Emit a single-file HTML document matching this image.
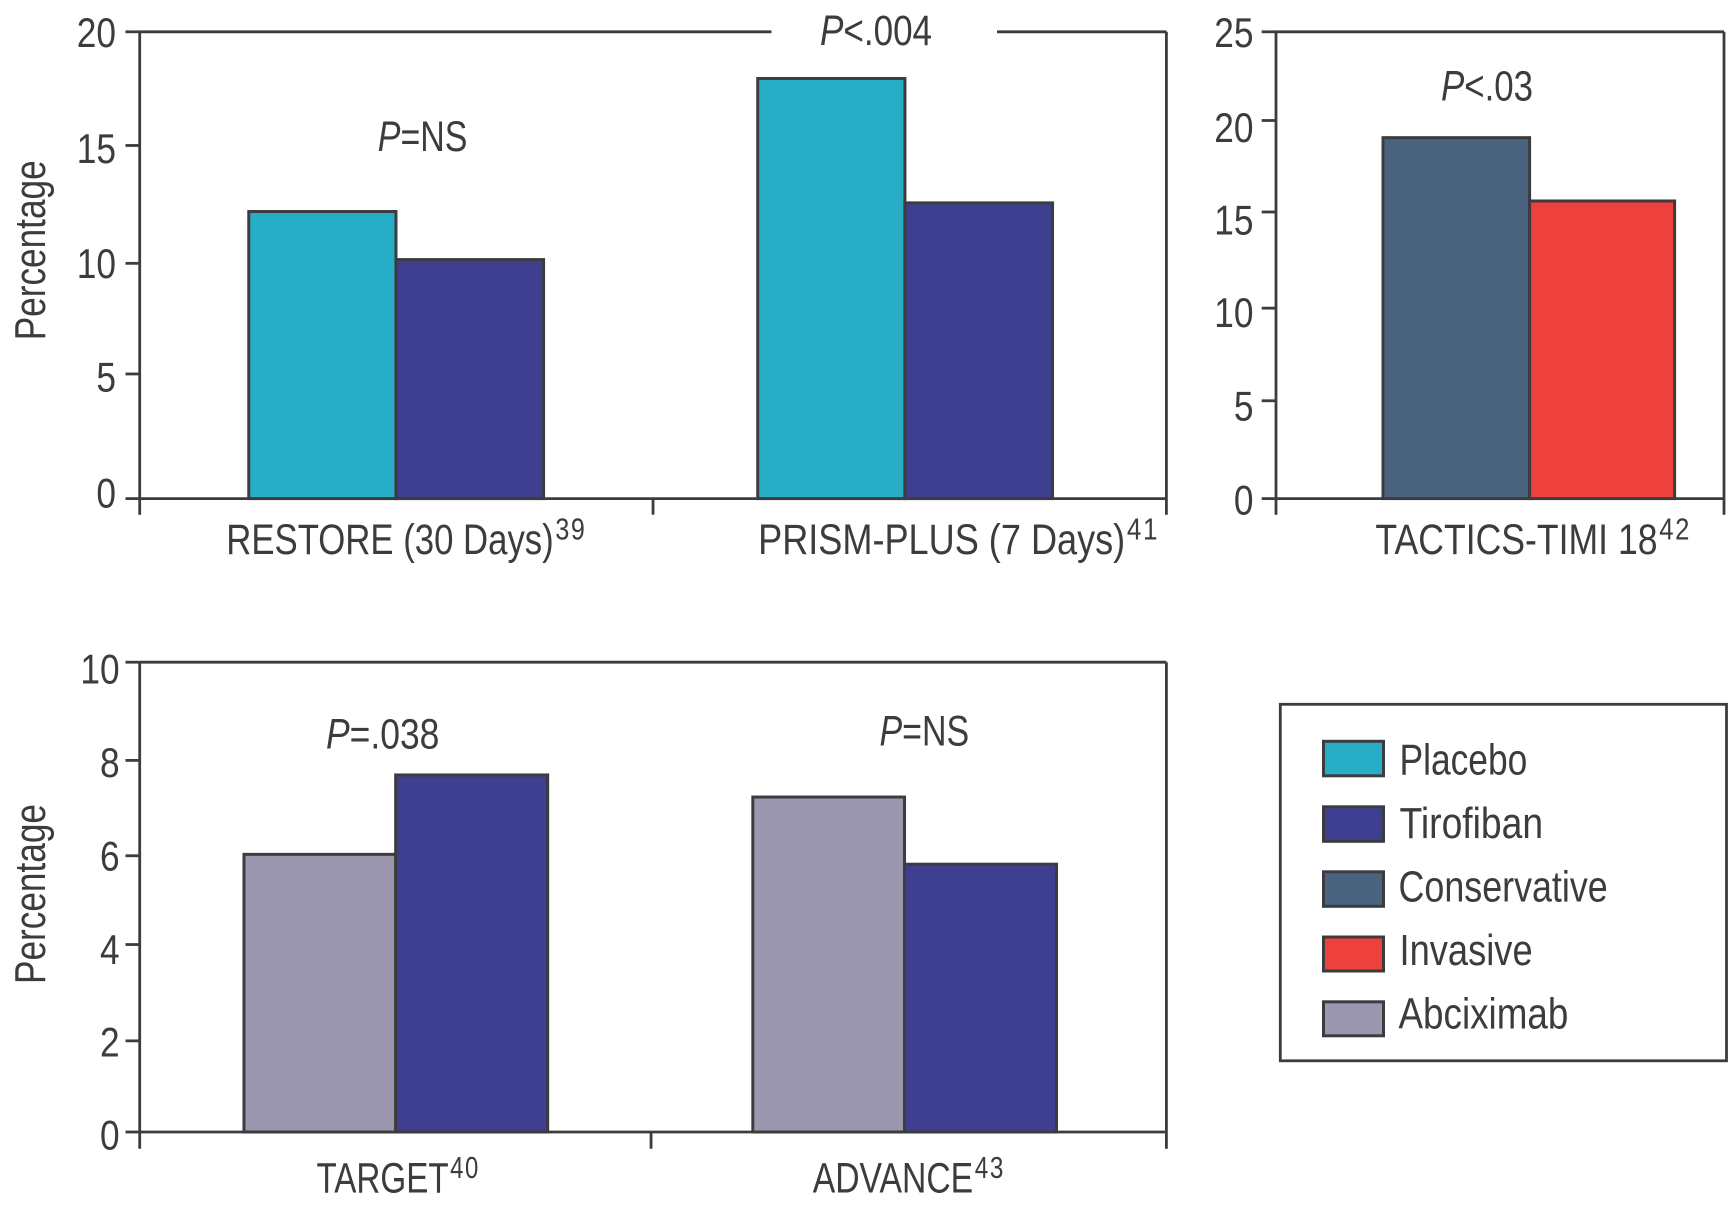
<!DOCTYPE html>
<html lang="en">
<head>
<meta charset="utf-8">
<title>Trial outcomes bar charts</title>
<style>
  html, body { margin: 0; padding: 0; background: #ffffff; }
  #figure { display: block; width: 1732px; height: 1211px; }
  text { font-family: "Liberation Sans", sans-serif; fill: #3c3c3f; }
</style>
</head>
<body>
<svg id="figure" xmlns="http://www.w3.org/2000/svg" width="1732" height="1211" viewBox="0 0 1732 1211">
  <rect x="0" y="0" width="1732" height="1211" fill="#ffffff"/>

  <g id="panel-a">
    <text transform="translate(45 340.3) rotate(-90) scale(.80 1)" font-size="44">Percentage</text>
    <text transform="translate(377.8 151) scale(.79 1)" font-size="43"><tspan font-style="italic">P</tspan>=NS</text>
    <text transform="translate(820 44.8) scale(.815 1)" font-size="43"><tspan font-style="italic">P</tspan>&lt;.004</text>
  </g>

  <g id="panel-b">
    <text transform="translate(1441 100.3) scale(.811 1)" font-size="43"><tspan font-style="italic">P</tspan>&lt;.03</text>
  </g>

  <g id="panel-c">
    <text transform="translate(45 984) rotate(-90) scale(.80 1)" font-size="44">Percentage</text>
    <text transform="translate(326 748.5) scale(.825 1)" font-size="43"><tspan font-style="italic">P</tspan>=.038</text>
    <text transform="translate(879.5 745.6) scale(.79 1)" font-size="43"><tspan font-style="italic">P</tspan>=NS</text>
  </g>

  <g>
    <rect x="1280.3" y="704.3" width="446.2" height="356.5" fill="#ffffff" stroke="#3c3c3f" stroke-width="2.8"/>
    <g>
      <rect x="1323.5" y="741.3" width="60" height="34.5" fill="#27aec6" stroke="#3c3c3f" stroke-width="3"/>
      <text transform="translate(1399.5 774.7) scale(.804 1)" font-size="44">Placebo</text>
    </g>
    <g>
      <rect x="1323.5" y="806.8" width="60" height="34.5" fill="#3f3f92" stroke="#3c3c3f" stroke-width="3"/>
      <text transform="translate(1399.5 838) scale(.847 1)" font-size="44">Tirofiban</text>
    </g>
    <g>
      <rect x="1323.5" y="871.8" width="60" height="34.5" fill="#4a6480" stroke="#3c3c3f" stroke-width="3"/>
      <text transform="translate(1398.5 901.7) scale(.815 1)" font-size="44">Conservative</text>
    </g>
    <g>
      <rect x="1323.5" y="937" width="60" height="34" fill="#ee403d" stroke="#3c3c3f" stroke-width="3"/>
      <text transform="translate(1399.5 965) scale(.825 1)" font-size="44">Invasive</text>
    </g>
    <g>
      <rect x="1323.5" y="1001.8" width="60" height="34" fill="#9b97af" stroke="#3c3c3f" stroke-width="3"/>
      <text transform="translate(1398.5 1028.3) scale(.837 1)" font-size="44">Abciximab</text>
    </g>
  </g>
</svg>

<script>
// ---- chart data (percentages) ----
const panelACategories = ["RESTORE (30 Days)", "PRISM-PLUS (7 Days)"];
const panelARefs = ["39", "41"];
const panelAFirstSeries = [12.3, 18.0];    // placebo
const panelASecondSeries = [10.24, 12.67]; // tirofiban
const panelATickLabels = ["0", "5", "10", "15", "20"];
const panelATickValues = [0, 5.34, 10.08, 15.13, 20];

const panelBCategories = ["TACTICS-TIMI 18"];
const panelBRefs = ["42"];
const panelBFirstSeries = [19.33];  // conservative
const panelBSecondSeries = [15.94]; // invasive
const panelBTickLabels = ["0", "5", "10", "15", "20", "25"];
const panelBTickValues = [0, 5.24, 10.2, 15.35, 20.25, 25];

const panelCCategories = ["TARGET", "ADVANCE"];
const panelCRefs = ["40", "43"];
const panelCFirstSeries = [5.91, 7.13];  // abciximab
const panelCSecondSeries = [7.60, 5.70]; // tirofiban
const panelCTickLabels = ["0", "2", "4", "6", "8", "10"];
const panelCTickValues = [0, 1.94, 3.99, 5.88, 7.91, 10];

// ---- drawing ----
const SVG_NS = "http://www.w3.org/2000/svg";
const INK = "#3c3c3f";

function make(parent, tag, attrs) {
  const el = document.createElementNS(SVG_NS, tag);
  for (const key in attrs) el.setAttribute(key, attrs[key]);
  parent.appendChild(el);
  return el;
}

function drawPanel(parent, p) {
  const maxValue = p.axisMax;
  const yAxis = v => p.baseY - v * (p.baseY - p.topY) / maxValue;
  const band = (p.rightX - p.leftX) / p.categories.length;
  const groupCenter = i => p.leftX + band * (i + 0.5) + p.centerShift[i];

  // plot frame
  const top = p.gap
    ? "M" + p.leftX + " " + p.topY + "H" + p.gap[0] + "M" + p.gap[1] + " " + p.topY + "H" + p.rightX
    : "M" + p.leftX + " " + p.topY + "H" + p.rightX;
  const frame = make(parent, "path", {
    d: top + "M" + p.rightX + " " + p.topY + "V" + p.tickBottom +
       "M" + p.leftX + " " + p.topY + "V" + p.tickBottom +
       "M" + p.leftX + " " + p.baseY + "H" + p.rightX,
    fill: "none", stroke: INK, "stroke-width": 2.8
  });
  
  

  // y ticks and labels
  p.tickValues.forEach((v, i) => {
    const y = yAxis(v);
    const tick = make(parent, "line", {
      x1: p.tickLeft, x2: p.leftX, y1: y, y2: y, stroke: INK, "stroke-width": 2.8
    });
    
    
    const label = make(parent, "text", {
      transform: "translate(" + p.labelRight + " " + (p.labelBase[i] + 0.4) + ") scale(.84 1)",
      "text-anchor": "end", "font-size": 42
    });
    label.textContent = p.tickLabels[i];
    
    
  });

  // category separators
  for (let i = 1; i < p.categories.length; i++) {
    const x = p.leftX + band * i + p.sepShift;
    const sep = make(parent, "line", {
      x1: x, x2: x, y1: p.baseY, y2: p.tickBottom, stroke: INK, "stroke-width": 2.8
    });
    
    
  }

  // bars
  p.categories.forEach((name, i) => {
    const c = groupCenter(i);
    const y1 = yAxis(p.first[i]);
    const barA = make(parent, "rect", {
      x: c - p.barWidth[0], y: y1, width: p.barWidth[0], height: p.baseY - y1,
      fill: p.colors[0], stroke: INK, "stroke-width": 3
    });
    
    
    const y2 = yAxis(p.second[i]);
    const barB = make(parent, "rect", {
      x: c, y: y2, width: p.barWidth[1], height: p.baseY - y2,
      fill: p.colors[1], stroke: INK, "stroke-width": 3
    });
    
    

    // category label with superscript reference
    const cat = make(parent, "text", {
      transform: "translate(" + (c + p.catShift[i]) + " " + p.catBase + ") scale(" + p.catScale[i] + " 1)",
      "font-size": 43
    });
    
    
    cat.appendChild(document.createTextNode(name));
    const sup = make(cat, "tspan", { dx: p.supGap, dy: -14.5, "font-size": 31, "letter-spacing": 2 });
    sup.textContent = p.refs[i];
    
    
  });
}

drawPanel(document.getElementById("panel-a"), {
  categories: panelACategories, refs: panelARefs,
  first: panelAFirstSeries, second: panelASecondSeries,
  tickLabels: panelATickLabels, tickValues: panelATickValues,
  axisMax: 20, seriesNames: ["placebo", "tirofiban"], colors: ["#27aec6", "#3f3f92"],
  leftX: 139.7, rightX: 1166.4, topY: 31.8, baseY: 498.6, tickLeft: 125.5, tickBottom: 514.7,
  gap: [771.5, 997], labelRight: 116, sepShift: 0, supGap: 2,
  labelBase: [507, 391, 277.5, 162.6, 46.7],
  centerShift: [-0.4, -4.8], barWidth: [147.2, 147.6],
  catShift: [-169.7, -146.8], catBase: 553.8, catScale: [.808, .84]
});

drawPanel(document.getElementById("panel-b"), {
  categories: panelBCategories, refs: panelBRefs,
  first: panelBFirstSeries, second: panelBSecondSeries,
  tickLabels: panelBTickLabels, tickValues: panelBTickValues,
  axisMax: 25, seriesNames: ["conservative", "invasive"], colors: ["#4a6480", "#ee403d"],
  leftX: 1276, rightX: 1724, topY: 31.8, baseY: 498.6, tickLeft: 1261.7, tickBottom: 514.7,
  gap: null, labelRight: 1253.5, sepShift: 0, supGap: 2,
  labelBase: [514, 420.2, 326.4, 234.2, 141.6, 46.7],
  centerShift: [29.6], barWidth: [146.6, 145],
  catShift: [-154.2], catBase: 553.8, catScale: [.828]
});

drawPanel(document.getElementById("panel-c"), {
  categories: panelCCategories, refs: panelCRefs,
  first: panelCFirstSeries, second: panelCSecondSeries,
  tickLabels: panelCTickLabels, tickValues: panelCTickValues,
  axisMax: 10, seriesNames: ["abciximab", "tirofiban"], colors: ["#9b97af", "#3f3f92"],
  leftX: 139.7, rightX: 1166.4, topY: 662.2, baseY: 1132, tickLeft: 125.5, tickBottom: 1148.7,
  gap: null, labelRight: 119.6, sepShift: -2, supGap: 2,
  labelBase: [1149, 1056, 963.4, 870, 776.6, 683],
  centerShift: [-0.7, -5.2], barWidth: [151.7, 152],
  catShift: [-79.2, -91.8], catBase: 1192.4, catScale: [.772, .784]
});
</script>
</body>
</html>
